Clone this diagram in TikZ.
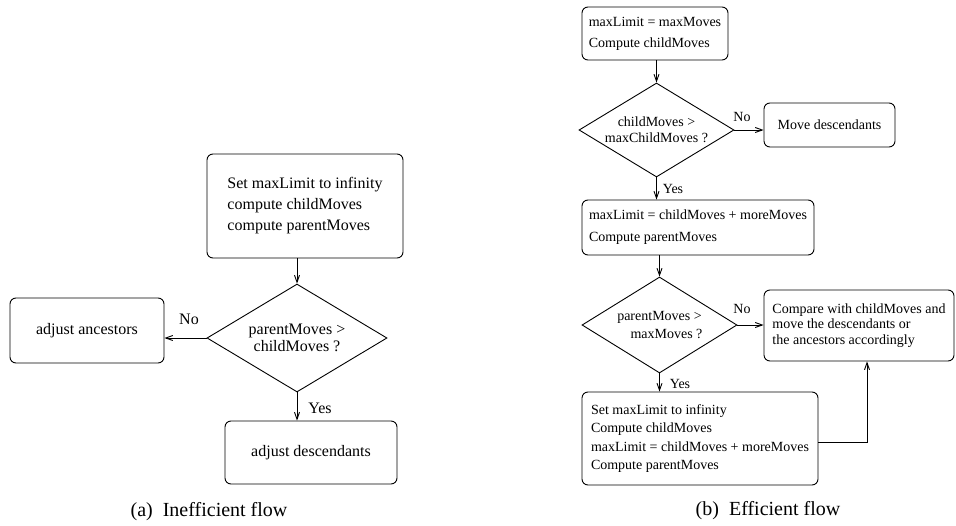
\documentclass[tikz,border=0pt]{standalone}
\usepackage{fontspec}
\setmainfont{Liberation Serif}
\usetikzlibrary{shapes.geometric,arrows.meta}

\tikzset{
  flowbox/.style={draw, rounded corners=6pt, align=left, inner sep=0pt},
  decision/.style={draw, diamond, align=center, inner sep=-3pt},
  flowline/.style={->},
  caption/.style={font=\fontsize{20}{24}\selectfont},
  >={Straight Barb[length=7pt,width=5pt]},
}

\begin{document}
\begin{tikzpicture}[x=1pt, y=-1pt, line width=0.9pt]
    \useasboundingbox (0,0) rectangle (956,525);

    % (a) the inefficient flow
    \begin{scope}[font=\fontsize{16}{21}\selectfont]
        \node[flowbox, minimum width=196pt, minimum height=104pt] (setA) at (305,206)
            {Set maxLimit to infinity\\compute childMoves\\compute parentMoves};
        \node[decision, aspect=1.667, minimum width=180pt, minimum height=108pt,
              font=\fontsize{16}{17}\selectfont] (decA) at (297,338)
            {parentMoves >\\childMoves ?};
        \node[flowbox, minimum width=154pt, minimum height=65pt] (ancA) at (87,330.5) {adjust ancestors};
        \node[flowbox, minimum width=172pt, minimum height=63pt] (descA) at (311,452.5) {adjust descendants};

        \draw[flowline] (setA.south -| decA.north) -- (decA.north);
        \draw[flowline] (decA.west) -- (decA.west -| ancA.east);
        \draw[flowline] (decA.south) -- (decA.south |- descA.north);

        \node (noA) at (189,319) {No};
        \node (yesA) at (320,408) {Yes};
    \end{scope}
    \node[caption] (capA) at (209,512) {(a)\ \ Inefficient flow};

    % (b) the efficient flow
    \begin{scope}[font=\fontsize{14}{21}\selectfont]
        \node[flowbox, minimum width=146pt, minimum height=53pt] (initB) at (655,33.5)
            {maxLimit = maxMoves\\Compute childMoves};
        \node[decision, aspect=1.65, minimum width=155pt, minimum height=94pt,
              font=\fontsize{14}{16}\selectfont] (decB) at (656.5,130)
            {childMoves >\\maxChildMoves ?};
        \node[flowbox, minimum width=131pt, minimum height=44pt] (moveB) at (829.5,125) {Move descendants};
        \node[flowbox, minimum width=232pt, minimum height=55pt,
              font=\fontsize{14}{22}\selectfont] (limB) at (698,227.5)
            {maxLimit = childMoves + moreMoves\\Compute parentMoves};
        \node[decision, aspect=1.61, minimum width=155pt, minimum height=96pt,
              font=\fontsize{14}{18}\selectfont] (parB) at (659.5,325)
            {parentMoves >\\\ \ \ \ maxMoves ?};
        \node[flowbox, minimum width=190pt, minimum height=71pt,
              font=\fontsize{14}{15.5}\selectfont] (cmpB) at (859,325.5)
            {Compare with childMoves and\\move the descendants or\\the ancestors accordingly};
        \node[flowbox, minimum width=236pt, minimum height=93pt,
              font=\fontsize{14}{18.3}\selectfont] (resetB) at (700,438.5)
            {Set maxLimit to infinity\\Compute childMoves\\maxLimit = childMoves + moreMoves\\Compute parentMoves};

        \draw[flowline] (initB.south -| decB.north) -- (decB.north);
        \draw[flowline] (decB.east) -- (decB.east -| moveB.west);
        \draw[flowline] (decB.south) -- (decB.south |- limB.north);
        \draw[flowline] (limB.south -| parB.north) -- (parB.north);
        \draw[flowline] (parB.east) -- (parB.east -| cmpB.west);
        \draw[flowline] (parB.south) -- (parB.south |- resetB.north);
        \draw[flowline] ([yshift=-4pt]resetB.east) -| ([xshift=8pt]cmpB.south);

        \node (noB) at (742,117) {No};
        \node (yesB) at (673,189) {Yes};
        \node (noP) at (742,309) {No};
        \node (yesP) at (680,384) {Yes};
    \end{scope}
    \node[caption] (capB) at (768,511) {(b)\ \ Efficient flow};
\end{tikzpicture}
\end{document}
